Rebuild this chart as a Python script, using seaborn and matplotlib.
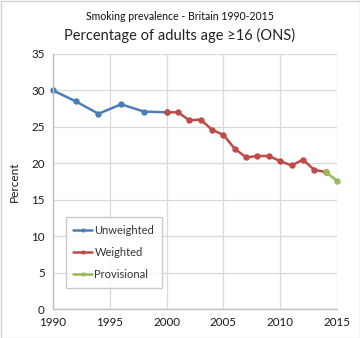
import matplotlib
matplotlib.use("Agg")
import matplotlib.pyplot as plt
import seaborn as sns
import pandas as pd

# Adult smoking prevalence, Great Britain (percent)
unweighted_years = [1990, 1992, 1994, 1996, 1998, 2000]
unweighted_pct = [30.0, 28.5, 26.8, 28.1, 27.1, 27.0]

weighted_years = [2000, 2001, 2002, 2003, 2004, 2005, 2006, 2007, 2008, 2009,
                  2010, 2011, 2012, 2013, 2014]
weighted_pct = [27.0, 27.0, 25.9, 26.0, 24.6, 23.9, 22.0, 20.8, 21.0, 21.0,
                20.3, 19.7, 20.5, 19.1, 18.8]

provisional_years = [2014, 2015]
provisional_pct = [18.8, 17.6]

series_names = ["Unweighted", "Weighted", "Provisional"]
series_colors = ["#4A7EBB", "#BE4B48", "#98B954"]

x_ticks = [1990, 1995, 2000, 2005, 2010, 2015]
y_ticks = [0, 5, 10, 15, 20, 25, 30, 35]

sns.set_theme(style="white")
plt.rcParams["font.family"] = ["Lato", "DejaVu Sans"]

fig = plt.figure(figsize=(3.6, 3.38), dpi=100)
ax = fig.add_axes([53 / 360, 1 - 309 / 338, 284 / 360, 255 / 338])

frames = [
    pd.DataFrame({"year": unweighted_years, "pct": unweighted_pct}),
    pd.DataFrame({"year": weighted_years, "pct": weighted_pct}),
    pd.DataFrame({"year": provisional_years, "pct": provisional_pct}),
]
for df, name, col in zip(frames, series_names, series_colors):
    sns.lineplot(data=df, x="year", y="pct", ax=ax, color=col, linewidth=1.8,
                 marker="o", markersize=4.6, markeredgewidth=0, label=name,
                 clip_on=False)

ax.set_xlim(1990, 2015)
ax.set_ylim(0, 35)
ax.set_xticks(x_ticks)
ax.set_yticks(y_ticks)
ax.set_xticklabels([str(t) for t in x_ticks], fontsize=8.4, color="#1a1a1a")
ax.set_yticklabels([str(t) for t in y_ticks], fontsize=8.4, color="#1a1a1a")
ax.tick_params(axis="both", length=0, pad=6)
ax.grid(True, color="#D9D9D9", linewidth=0.9)
ax.set_axisbelow(True)
for side in ["top", "right"]:
    ax.spines[side].set_visible(False)
for side in ["left", "bottom"]:
    ax.spines[side].set_color("#BFBFBF")
    ax.spines[side].set_linewidth(1.0)
ax.set_xlabel("")
ax.set_ylabel("Percent", fontsize=8.6, color="#1a1a1a", labelpad=8)

leg = ax.legend(loc="lower left", bbox_to_anchor=(12.5 / 284, 21 / 255),
                fontsize=8, frameon=True, fancybox=False, borderpad=0.7,
                labelspacing=1.0, handlelength=1.7, handletextpad=0.2,
                borderaxespad=0)
leg.get_frame().set_edgecolor("#BFBFBF")
leg.get_frame().set_linewidth(1.0)
for t in leg.get_texts():
    t.set_color("#333333")
for h in leg.get_lines():
    h.set_markersize(3)
    h.set_linewidth(1.8)

fig.text(0.5, 1 - 16 / 338, "Smoking prevalence - Britain 1990-2015",
         ha="center", va="center", fontsize=7.6, color="#111111")
fig.text(0.5, 1 - 35 / 338, "Percentage of adults age \u226516 (ONS)",
         ha="center", va="center", fontsize=10.5, color="#222222")

fig.patches.append(plt.Rectangle((0.5 / 360, 0.5 / 338), 1 - 1 / 360, 1 - 1 / 338,
                                 transform=fig.transFigure, fill=False,
                                 edgecolor="#D0D0D0", linewidth=1.0))

fig.savefig("out.png", dpi=100)
